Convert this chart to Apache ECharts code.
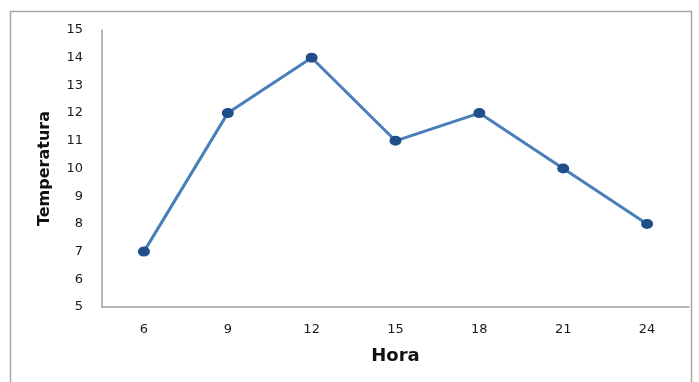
<!DOCTYPE html>
<html><head><meta charset="utf-8">
<script src="https://cdn.jsdelivr.net/npm/echarts@6/dist/echarts.min.js"></script>
<style>html,body{margin:0;padding:0;background:#fff}#c{width:699px;height:382px}</style>
</head><body><div id="c"></div>
<script>
const categories = ['6','9','12','15','18','21','24'];
const temperatura = [7,12,14,11,12,10,8];
const yMin = 5, yMax = 15, yStep = 1;

const chart = echarts.init(document.getElementById('c'), null, {renderer:'canvas'});
chart.setOption({
  animation:false,
  backgroundColor:'#fff',
  graphic:[{type:'rect',shape:{x:10.5,y:11.5,width:681,height:380},style:{fill:'none',stroke:'#a6a6a6',lineWidth:1.5},silent:true}],
  grid:{left:102,right:10,top:30,bottom:75},
  xAxis:{type:'category',data:categories,boundaryGap:true,
    name:'Hora',nameLocation:'middle',nameGap:40,
    nameTextStyle:{fontFamily:'DejaVu Sans',fontWeight:'bold',fontSize:18,color:'#111'},
    axisLine:{lineStyle:{color:'#a0a0a0',width:1.5}},axisTick:{show:false},
    axisLabel:{margin:16,fontFamily:'DejaVu Sans',fontSize:13,color:'#1a1a1a'},splitLine:{show:false}},
  yAxis:{type:'value',min:yMin,max:yMax,interval:yStep,
    name:'Temperatura',nameLocation:'middle',nameGap:49,nameRotate:90,
    nameTextStyle:{fontFamily:'DejaVu Sans',fontWeight:'bold',fontSize:16,color:'#111'},
    axisLine:{show:true,lineStyle:{color:'#a0a0a0',width:1.5}},axisTick:{show:false},
    axisLabel:{margin:19,fontFamily:'DejaVu Sans',fontSize:13,color:'#1a1a1a'},splitLine:{show:false}},
  series:[{type:'line',data:temperatura,symbol:'circle',symbolSize:[12,10],
    lineStyle:{color:'#4a7ebb',width:3},itemStyle:{color:'#1f4e8a'}}]
});
</script></body></html>
